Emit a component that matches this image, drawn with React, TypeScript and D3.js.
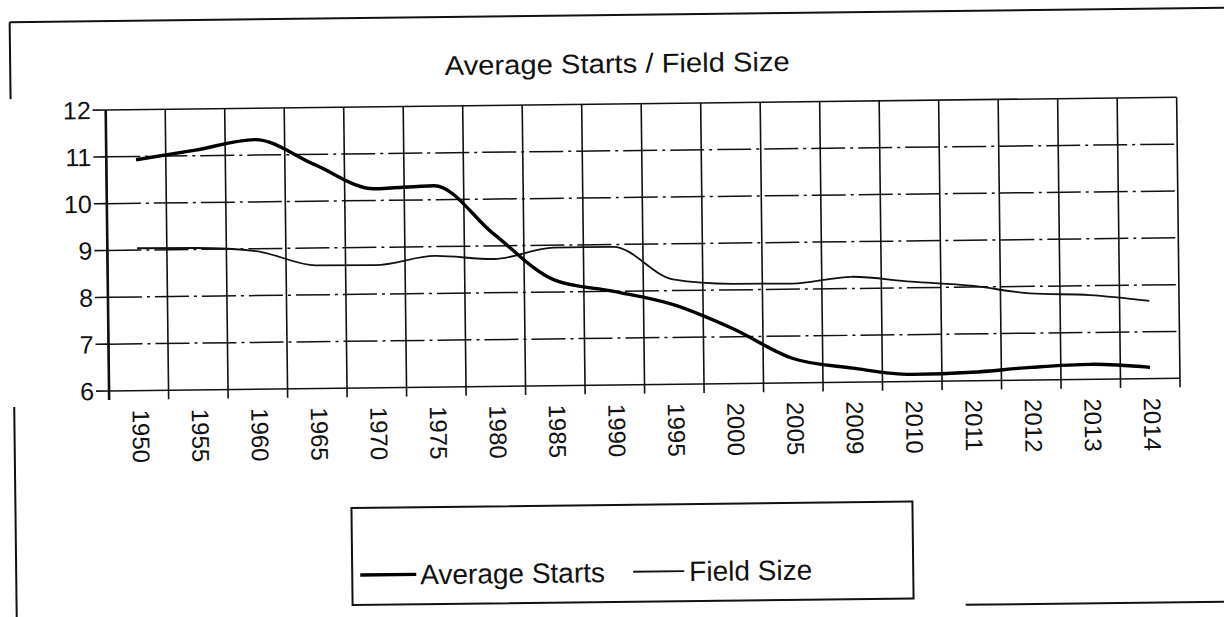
import * as d3 from "d3";

const WIDTH = 1224;
const HEIGHT = 617;
const MARGIN = { top: 104, right: 45, bottom: 232, left: 108 };
const FONT = "'Liberation Sans', Arial, sans-serif";

const years = [
  "1950", "1955", "1960", "1965", "1970", "1975", "1980", "1985", "1990",
  "1995", "2000", "2005", "2009", "2010", "2011", "2012", "2013", "2014",
];
const averageStarts = [
  10.93, 11.12, 11.33, 10.78, 10.25, 10.3, 9.25, 8.26, 8.0,
  7.7, 7.17, 6.52, 6.3, 6.15, 6.18, 6.27, 6.32, 6.24,
];
const fieldSize = [
  9.04, 9.03, 8.95, 8.63, 8.62, 8.8, 8.72, 8.95, 8.95,
  8.24, 8.13, 8.12, 8.25, 8.13, 8.03, 7.85, 7.8, 7.66,
];
const yTicks = [6, 7, 8, 9, 10, 11, 12];
const legendItems = ["Average Starts", "Field Size"];

export default function App() {
  const boundsWidth = WIDTH - MARGIN.left - MARGIN.right;
  const boundsHeight = HEIGHT - MARGIN.top - MARGIN.bottom;
  const x0 = MARGIN.left;
  const x1 = MARGIN.left + boundsWidth;
  const yTop = MARGIN.top;
  const yBottom = MARGIN.top + boundsHeight;

  const xScale = d3.scaleBand().domain(years).range([x0, x1]).padding(0);
  const yScale = d3.scaleLinear().domain([6, 12]).range([yBottom, yTop]);
  const cx = (d: string) => (xScale(d) ?? 0) + xScale.bandwidth() / 2;

  const line = d3
    .line<number>()
    .x((_, i) => cx(years[i]))
    .y((v) => yScale(v))
    .curve(d3.curveMonotoneX);

  // vertical grid lines sit on the band boundaries
  const bounds = years.map((d) => xScale(d) ?? 0).concat([x1]);

  return (
    <svg
      width={WIDTH}
      height={HEIGHT}
      style={{ position: "absolute", left: 0, top: 0, display: "block", background: "#fff" }}
    >
      <rect width={WIDTH} height={HEIGHT} fill="#fff" />
      {/* the scan is slightly tilted */}
      <g transform="rotate(-0.68, 612, 300)" fontFamily={FONT} fill="#111">
        {/* outer frame pieces */}
        <line x1={13} x2={1240} y1={15} y2={15} stroke="#111" strokeWidth={2} />
        <line x1={13} x2={13} y1={15} y2={92} stroke="#111" strokeWidth={2} />
        <line x1={13} x2={13} y1={400} y2={640} stroke="#111" strokeWidth={2} />
        <line x1={962} x2={1240} y1={609} y2={609} stroke="#111" strokeWidth={2} />

        <text
          x={620}
          y={73}
          textAnchor="middle"
          fontSize={27}
          textLength={345}
          lengthAdjust="spacingAndGlyphs"
        >
          Average Starts / Field Size
        </text>

        {/* horizontal grid */}
        {yTicks.slice(1, -1).map((t) => (
          <line
            key={"h" + t}
            x1={x0}
            x2={x1}
            y1={yScale(t)}
            y2={yScale(t)}
            stroke="#111"
            strokeWidth={1.5}
            strokeDasharray="34 5 3 5"
          />
        ))}
        {/* vertical grid + ticks below */}
        {bounds.map((bx, i) => (
          <line
            key={"v" + i}
            x1={bx}
            x2={bx}
            y1={yTop}
            y2={yBottom + 9}
            stroke="#111"
            strokeWidth={1.6}
          />
        ))}
        {/* plot frame */}
        <line x1={x0} x2={x1} y1={yTop} y2={yTop} stroke="#111" strokeWidth={1.6} />
        <line x1={x0} x2={x1} y1={yBottom} y2={yBottom} stroke="#111" strokeWidth={1.6} />
        <line x1={x0} x2={x0} y1={yTop} y2={yBottom + 9} stroke="#111" strokeWidth={2.6} />

        {/* y axis */}
        {yTicks.map((t) => (
          <g key={"y" + t}>
            <line x1={x0 - 13} x2={x0} y1={yScale(t)} y2={yScale(t)} stroke="#111" strokeWidth={1.6} />
            <text x={x0 - 15} y={yScale(t)} dy="0.36em" textAnchor="end" fontSize={25}>
              {t}
            </text>
          </g>
        ))}

        {/* x axis labels, rotated to read downwards */}
        {years.map((d) => (
          <text
            key={"x" + d}
            transform={`translate(${cx(d) + 2},${yBottom + 19}) rotate(90)`}
            dy="0.36em"
            textAnchor="start"
            fontSize={24}
          >
            {d}
          </text>
        ))}

        {/* series */}
        <path d={line(fieldSize) ?? ""} fill="none" stroke="#111" strokeWidth={1.8} />
        <path d={line(averageStarts) ?? ""} fill="none" stroke="#000" strokeWidth={3.4} />

        {/* legend */}
        <rect x={349} y={505} width={561} height={97} fill="none" stroke="#111" strokeWidth={2} />
        <line x1={357} x2={413} y1={572} y2={572} stroke="#000" strokeWidth={3.4} />
        <text x={417} y={582} fontSize={28}>
          {legendItems[0]}
        </text>
        <line x1={630} x2={681} y1={572} y2={572} stroke="#111" strokeWidth={1.8} />
        <text x={686} y={582} fontSize={28}>
          {legendItems[1]}
        </text>
      </g>
    </svg>
  );
}
